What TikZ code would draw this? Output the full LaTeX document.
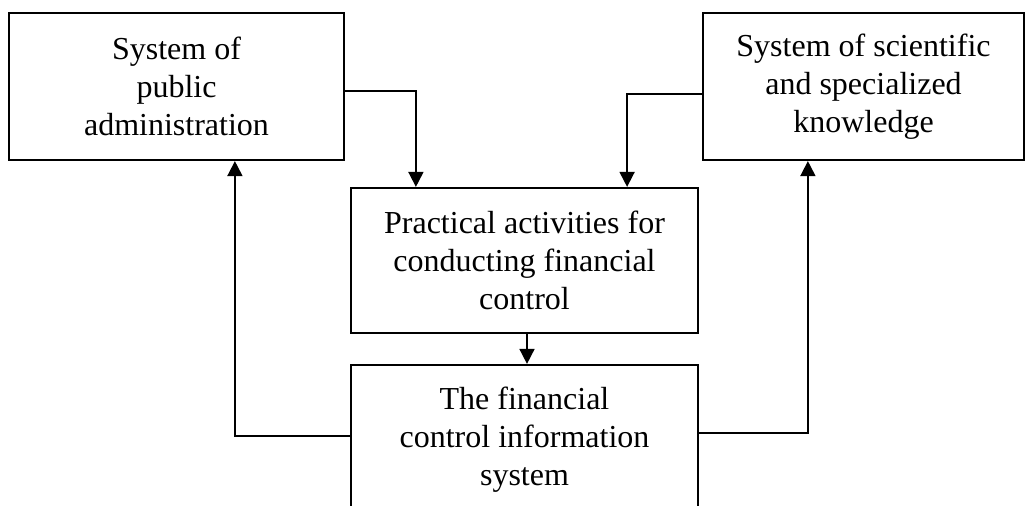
\documentclass[tikz,border=0pt]{standalone}
\usepackage{fontspec}
\setmainfont{Liberation Serif}
\usetikzlibrary{arrows.meta}
\begin{document}
\begin{tikzpicture}[x=1pt,y=1pt,
  box/.style={draw, line width=2.2pt, inner sep=0pt, align=center,
    font=\fontsize{32}{38}\selectfont},
  arr/.style={line width=1.7pt, -{Triangle[length=15pt,width=15pt]}}]
\useasboundingbox (0,0) rectangle (1026,-506);
\clip (0,0) rectangle (1026,-506);
\node[box, minimum width=335pt, minimum height=147pt] (b1) at (176.5,-86.5)
  {System of\\public\\administration};
\node[box, minimum width=321pt, minimum height=147pt] (b2) at (863.5,-86.5)
  {System of scientific\\and specialized\\knowledge};
\node[box, minimum width=347pt, minimum height=145pt] (b3) at (524.5,-260.5)
  {Practical activities for\\conducting financial\\control};
\node[box, minimum width=347pt, minimum height=150pt] (b4) at (524.5,-440)
  {The financial\\control information\\system};
\draw[arr] ([yshift=-4.5pt]b1.east) -| ([xshift=66pt]b3.north west);
\draw[arr] ([yshift=-7.5pt]b2.west) -| ([xshift=-72pt]b3.north east);
\draw[arr] ([xshift=2.5pt]b3.south) -- ([xshift=2.5pt]b4.north);
\draw[arr] ([yshift=-72pt]b4.north west) -| ([xshift=227pt]b1.south west);
\draw[arr] ([yshift=-69pt]b4.north east) -| ([xshift=106pt]b2.south west);
\end{tikzpicture}
\end{document}
